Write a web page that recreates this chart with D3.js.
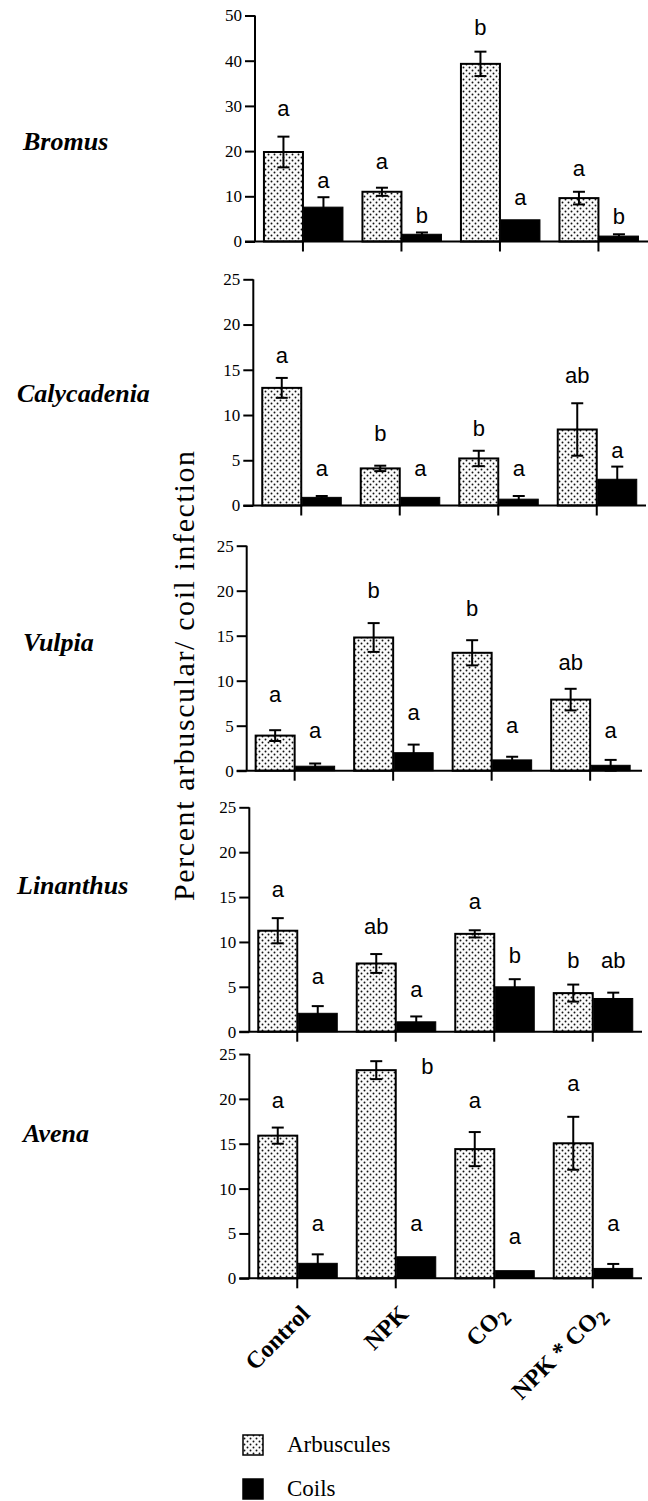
<!DOCTYPE html>
<html>
<head>
<meta charset="utf-8">
<script src="https://cdn.jsdelivr.net/npm/d3@7/dist/d3.min.js"></script>
<style>
  html, body { margin: 0; padding: 0; background: #ffffff; }
  svg { display: block; }
</style>
</head>
<body>
<svg id="chart" width="648" height="1501"></svg>
<script>
// ---------------- DATA ----------------
const categories = ["Control", "NPK", "CO2", "NPK * CO2"];
const species = ["Bromus", "Calycadenia", "Vulpia", "Linanthus", "Avena"];
const yMaxes = [50, 25, 25, 25, 25];
const yTickSteps = [10, 5, 5, 5, 5];
const seriesNames = ["Arbuscules", "Coils"];
const yAxisTitle = "Percent arbuscular/ coil infection";

// Bromus
const bromusArb = [19.8, 11.0, 39.3, 9.6];
const bromusArbSE = [3.4, 0.9, 2.7, 1.4];
const bromusCoil = [7.6, 1.6, 4.8, 1.2];
const bromusCoilSE = [2.2, 0.4, 0, 0.4];
const bromusArbLetters = ["a", "a", "b", "a"];
const bromusCoilLetters = ["a", "b", "a", "b"];
const bromusArbLetterLevel = [27.8, 16.0, 45.7, 14.5];
const bromusCoilLetterLevel = [11.9, 4.1, 8.1, 3.9];

// Calycadenia
const calyArb = [13.0, 4.1, 5.2, 8.4];
const calyArbSE = [1.1, 0.3, 0.85, 2.9];
const calyCoil = [0.9, 0.9, 0.7, 2.9];
const calyCoilSE = [0.15, 0, 0.35, 1.4];
const calyArbLetters = ["a", "b", "b", "ab"];
const calyCoilLetters = ["a", "a", "a", "a"];
const calyArbLetterLevel = [15.7, 7.1, 7.7, 13.5];
const calyCoilLetterLevel = [3.3, 3.3, 3.3, 5.3];

// Vulpia
const vulpArb = [3.9, 14.8, 13.1, 7.9];
const vulpArbSE = [0.6, 1.6, 1.4, 1.2];
const vulpCoil = [0.5, 2.0, 1.2, 0.6];
const vulpCoilSE = [0.3, 0.9, 0.35, 0.6];
const vulpArbLetters = ["a", "b", "b", "ab"];
const vulpCoilLetters = ["a", "a", "a", "a"];
const vulpArbLetterLevel = [7.6, 19.2, 17.2, 11.2];
const vulpCoilLetterLevel = [3.6, 5.6, 4.2, 3.6];

// Linanthus
const linaArb = [11.25, 7.6, 10.9, 4.3];
const linaArbSE = [1.4, 1.05, 0.4, 0.95];
const linaCoil = [2.05, 1.1, 5.0, 3.7];
const linaCoilSE = [0.8, 0.6, 0.85, 0.65];
const linaArbLetters = ["a", "ab", "a", "b"];
const linaCoilLetters = ["a", "a", "b", "ab"];
const linaArbLetterLevel = [15.0, 10.9, 13.7, 7.1];
const linaCoilLetterLevel = [5.3, 3.9, 7.65, 7.1];

// Avena
const avenArb = [15.9, 23.2, 14.4, 15.05];
const avenArbSE = [0.9, 1.0, 1.9, 2.95];
const avenCoil = [1.67, 2.4, 0.85, 1.1];
const avenCoilSE = [1.0, 0, 0, 0.5];
const avenArbLetters = ["a", "b", "a", "a"];
const avenCoilLetters = ["a", "a", "a", "a"];
const avenArbLetterLevel = [19.0, 22.8, 19.0, 20.9];
const avenCoilLetterLevel = [5.3, 5.3, 3.8, 5.3];

const arbValues = [bromusArb, calyArb, vulpArb, linaArb, avenArb];
const arbSE = [bromusArbSE, calyArbSE, vulpArbSE, linaArbSE, avenArbSE];
const coilValues = [bromusCoil, calyCoil, vulpCoil, linaCoil, avenCoil];
const coilSE = [bromusCoilSE, calyCoilSE, vulpCoilSE, linaCoilSE, avenCoilSE];
const arbLetters = [bromusArbLetters, calyArbLetters, vulpArbLetters, linaArbLetters, avenArbLetters];
const coilLetters = [bromusCoilLetters, calyCoilLetters, vulpCoilLetters, linaCoilLetters, avenCoilLetters];
const arbLetterLevels = [bromusArbLetterLevel, calyArbLetterLevel, vulpArbLetterLevel, linaArbLetterLevel, avenArbLetterLevel];
const coilLetterLevels = [bromusCoilLetterLevel, calyCoilLetterLevel, vulpCoilLetterLevel, linaCoilLetterLevel, avenCoilLetterLevel];

// ---------------- LAYOUT ----------------
const layout = [
  { axisX: 255.0, top: 15.5,  zero: 241.5,  right: 648, labelX: 23, labelY: 150 },
  { axisX: 253.3, top: 279.3, zero: 505.5,  right: 646, labelX: 17, labelY: 401.7 },
  { axisX: 246.7, top: 545.7, zero: 770.7,  right: 642, labelX: 23, labelY: 651 },
  { axisX: 249.3, top: 807.3, zero: 1031.7, right: 642, labelX: 17, labelY: 894 },
  { axisX: 249.3, top: 1054,  zero: 1278.3, right: 642, labelX: 23, labelY: 1142 }
];
// horizontal nudge for a few letters (panel, series, category) -> px
const letterNudge = { "4-arb-1": 51 };
const bandStep = 98.5;
const barW = 40;
const serif = "'Liberation Serif', 'Times New Roman', serif";
const sans = "'Liberation Sans', Arial, sans-serif";

const svg = d3.select("#chart");
const defs = svg.append("defs");
const pat = defs.append("pattern")
  .attr("id", "dots").attr("patternUnits", "userSpaceOnUse")
  .attr("width", 6).attr("height", 6);
pat.append("rect").attr("width", 6).attr("height", 6).attr("fill", "#fbfbfb");
pat.append("circle").attr("cx", 1.5).attr("cy", 1.5).attr("r", 0.95).attr("fill", "#111");
pat.append("circle").attr("cx", 4.5).attr("cy", 4.5).attr("r", 0.95).attr("fill", "#111");

species.forEach((sp, p) => {
  const L = layout[p];
  const g = svg.append("g");
  const y = d3.scaleLinear().domain([0, yMaxes[p]]).range([L.zero, L.top]);
  const x = d3.scaleBand().domain(categories)
    .range([L.axisX - 1.3, L.axisX - 1.3 + bandStep * categories.length]);
  const cx = c => x(c) + x.bandwidth() / 2;

  // species label
  g.append("text").attr("x", L.labelX).attr("y", L.labelY)
    .attr("font-family", serif).attr("font-weight", "bold").attr("font-style", "italic")
    .attr("font-size", 26).attr("fill", "#000").text(sp);

  // y axis
  const ticks = d3.range(0, yMaxes[p] + 0.001, yTickSteps[p]);
  const yAxis = d3.axisLeft(y).tickValues(ticks).tickSize(10).tickPadding(3).tickFormat(d3.format("d"));
  const ya = g.append("g").attr("transform", `translate(${L.axisX},0)`).call(yAxis);
  ya.select(".domain").attr("d", `M0,${L.zero}V${L.top}`).attr("stroke", "#000").attr("stroke-width", 2);
  ya.selectAll(".tick line").attr("stroke", "#000").attr("stroke-width", 2);
  ya.selectAll(".tick text").attr("font-family", serif).attr("font-size", 17).attr("fill", "#000");

  // bars
  const arb = categories.map((c, i) => ({ c, v: arbValues[p][i], se: arbSE[p][i], l: arbLetters[p][i], lv: arbLetterLevels[p][i], k: "arb", i }));
  const coil = categories.map((c, i) => ({ c, v: coilValues[p][i], se: coilSE[p][i], l: coilLetters[p][i], lv: coilLetterLevels[p][i], k: "coil", i }));

  g.selectAll("rect.arb").data(arb).enter().append("rect")
    .attr("x", d => cx(d.c) - barW + 1).attr("width", barW - 1)
    .attr("y", d => y(d.v)).attr("height", d => y(0) - y(d.v))
    .attr("fill", "url(#dots)").attr("stroke", "#000").attr("stroke-width", 2);
  g.selectAll("rect.coil").data(coil).enter().append("rect")
    .attr("x", d => cx(d.c) + 1).attr("width", barW - 1)
    .attr("y", d => y(d.v)).attr("height", d => y(0) - y(d.v))
    .attr("fill", "#000").attr("stroke", "#000").attr("stroke-width", 1);

  // error bars
  const all = arb.concat(coil).filter(d => d.se > 0);
  const ex = d => d.k === "arb" ? cx(d.c) - barW / 2 + 0.5 : cx(d.c) + barW / 2 + 0.5;
  const eg = g.selectAll("g.err").data(all).enter().append("g")
    .attr("stroke", "#000").attr("stroke-width", 2);
  eg.append("line").attr("x1", ex).attr("x2", ex).attr("y1", d => y(d.v + d.se)).attr("y2", d => y(Math.max(0, d.v - d.se)));
  eg.append("line").attr("x1", d => ex(d) - 6).attr("x2", d => ex(d) + 6).attr("y1", d => y(d.v + d.se)).attr("y2", d => y(d.v + d.se));
  eg.append("line").attr("x1", d => ex(d) - 6).attr("x2", d => ex(d) + 6).attr("y1", d => y(Math.max(0, d.v - d.se))).attr("y2", d => y(Math.max(0, d.v - d.se)));

  // letters
  g.selectAll("text.let").data(arb.concat(coil)).enter().append("text")
    .attr("x", d => ex(d) + (letterNudge[`${p}-${d.k}-${d.i}`] || 0))
    .attr("y", d => y(d.lv))
    .attr("text-anchor", "middle").attr("font-family", sans).attr("font-size", 22).attr("fill", "#000")
    .text(d => d.l);

  // x axis
  const xAxis = d3.axisBottom(x).tickSize(10).tickFormat("");
  const xa = g.append("g").attr("transform", `translate(0,${L.zero})`).call(xAxis);
  xa.select(".domain").attr("d", `M${L.axisX - 10},0H${L.right}`).attr("stroke", "#000").attr("stroke-width", 2);
  xa.selectAll(".tick line").attr("stroke", "#000").attr("stroke-width", 2);

  // category labels for bottom panel
  if (p === species.length - 1) {
    const lab = g.selectAll("text.cat").data(categories).enter().append("text")
      .attr("transform", c => `translate(${cx(c) + 14},${L.zero + 37}) rotate(-45)`)
      .attr("text-anchor", "end").attr("font-family", serif).attr("font-weight", "bold")
      .attr("font-size", 24).attr("fill", "#000");
    lab.each(function (c) {
      const t = d3.select(this);
      const m = c.match(/^(.*CO)2$/);
      if (m) {
        t.append("tspan").text(m[1]);
        t.append("tspan").attr("dy", 6).attr("font-size", 20).text("2");
      } else {
        t.text(c);
      }
    });
  }
});

// y axis title
svg.append("text").attr("transform", "translate(194,676) rotate(-90)")
  .attr("text-anchor", "middle").attr("font-family", serif).attr("font-size", 30).attr("fill", "#000")
  .attr("textLength", 450).attr("lengthAdjust", "spacing")
  .text(yAxisTitle);

// legend
const legend = svg.append("g");
const legY = [1435, 1479];
seriesNames.forEach((s, i) => {
  legend.append("rect").attr("x", 243).attr("y", legY[i]).attr("width", 20).attr("height", 20)
    .attr("fill", i === 0 ? "url(#dots)" : "#000").attr("stroke", "#000").attr("stroke-width", 1.5);
  legend.append("text").attr("x", 287).attr("y", legY[i] + 17)
    .attr("font-family", serif).attr("font-size", 23).attr("fill", "#000").text(s);
});
</script>
</body>
</html>
